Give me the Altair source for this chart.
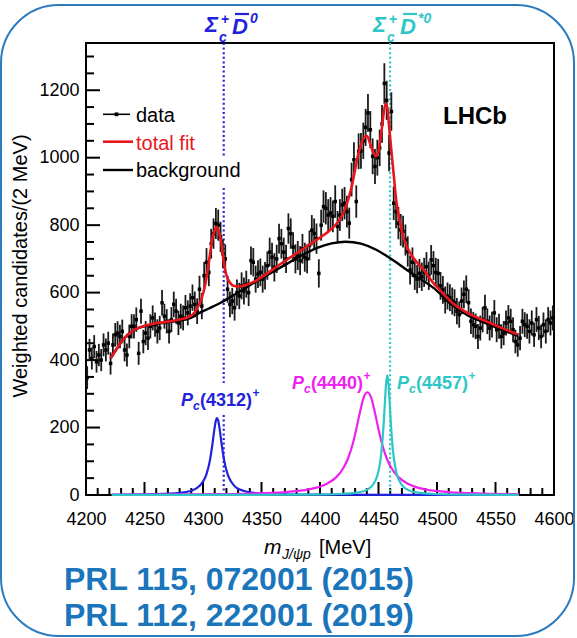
import altair as alt
import pandas as pd

FONT = "Liberation Sans"
BLUE = "#2222dd"
MAGENTA = "#ee22ee"
CYAN = "#2ec6c6"
RED = "#e8161c"
FRAME = "#2b7bbf"
REF_BLUE = "#1b75bb"

# ---------------- histogram: weighted candidates per 2 MeV ----------------
mass = list(range(4201, 4600, 2))
counts = [
    348, 430, 405, 440, 395, 415, 400, 445, 430, 450,
    390, 445, 475, 480, 470, 485, 430, 415, 470, 500,
    500, 520, 420, 545, 455, 480, 465, 500, 525, 505,
    485, 495, 570, 530, 515, 485, 520, 565, 545, 510,
    530, 525, 555, 540, 560, 585, 565, 545, 610, 560,
    650, 690, 660, 745, 775, 805, 800, 765, 715, 700,
    610, 565, 575, 555, 600, 590, 620, 605, 625, 600,
    695, 690, 640, 655, 660, 640, 650, 680, 720, 705,
    675, 700, 760, 745, 720, 700, 790, 775, 735, 700,
    710, 695, 730, 705, 700, 740, 785, 775, 760, 657,
    800, 855, 850, 830, 836, 826, 870, 796, 830, 860,
    865, 840, 806, 935, 994, 870, 1019, 1020, 1050, 1090,
    1133, 1083, 1004, 974, 1000, 1029, 1100, 1220, 1170, 1014,
    1137, 865, 840, 806, 786, 781, 756, 722, 667, 690,
    650, 640, 657, 647, 660, 677, 650, 697, 680, 660,
    657, 620, 608, 578, 590, 585, 575, 570, 545, 535,
    575, 595, 610, 570, 515, 505, 500, 470, 495, 520,
    555, 515, 495, 505, 540, 490, 500, 470, 480, 510,
    525, 515, 490, 455, 445, 465, 515, 505, 500, 485,
    510, 475, 520, 495, 470, 505, 485, 520, 510, 525,
]
errors = [
    34, 33, 33, 34, 32, 33, 33, 34, 34, 34,
    33, 34, 35, 35, 35, 35, 34, 34, 35, 36,
    36, 36, 34, 37, 35, 36, 35, 36, 37, 36,
    36, 36, 38, 37, 36, 36, 37, 38, 37, 36,
    37, 37, 38, 37, 38, 39, 38, 38, 40, 39,
    41, 42, 41, 44, 45, 46, 46, 45, 43, 43,
    40, 38, 39, 38, 39, 39, 40, 40, 40, 40,
    42, 42, 40, 41, 41, 40, 41, 42, 43, 43,
    42, 42, 44, 44, 43, 42, 45, 45, 44, 43,
    43, 43, 44, 43, 43, 44, 45, 45, 45, 42,
    46, 48, 48, 47, 47, 47, 48, 46, 47, 48,
    48, 47, 46, 50, 52, 48, 53, 53, 54, 55,
    56, 55, 53, 52, 53, 54, 56, 60, 58, 54,
    57, 50, 49, 48, 47, 47, 46, 45, 43, 44,
    42, 42, 43, 42, 43, 43, 42, 44, 43, 43,
    43, 41, 41, 40, 40, 40, 40, 40, 39, 39,
    40, 41, 41, 40, 38, 38, 38, 37, 37, 38,
    39, 38, 37, 38, 38, 37, 37, 36, 36, 37,
    38, 37, 37, 35, 35, 36, 37, 37, 37, 36,
    37, 36, 37, 36, 35, 36, 36, 37, 37, 37,
]

# ---------------- fit components ----------------
fit_mass = [4221, 4226, 4232, 4240, 4250, 4260, 4270, 4280, 4288, 4293,
            4296, 4299, 4302, 4305, 4308, 4310, 4312, 4314, 4316, 4318,
            4320, 4323, 4326, 4330, 4336, 4345, 4355, 4365, 4375, 4385,
            4395, 4405, 4412, 4417, 4421, 4424, 4427, 4430, 4433, 4436,
            4440, 4443, 4446, 4448, 4450, 4452, 4454, 4456, 4457.5, 4459,
            4461, 4463, 4465, 4468, 4472, 4479, 4488, 4497, 4505, 4512,
            4526, 4540, 4554, 4569]
fit_total = [405, 432, 462, 487, 502, 509, 514, 520, 528, 542,
             560, 585, 625, 690, 760, 785, 795, 775, 738, 685,
             652, 630, 620, 618, 622, 635, 657, 682, 705, 728,
             752, 775, 796, 818, 845, 875, 912, 965, 1015, 1048,
             1065, 1040, 1012, 1004, 1020, 1063, 1120, 1160, 1150, 1095,
             1020, 950, 878, 815, 756, 707, 670, 628, 598, 573,
             540, 518, 497, 476]

bkg_mass = [4221, 4226, 4232, 4240, 4250, 4260, 4270, 4280, 4290, 4297,
            4305, 4315, 4326, 4340, 4354, 4369, 4383, 4397, 4410, 4422,
            4435, 4448, 4460, 4474, 4486, 4497, 4512, 4526, 4540, 4554,
            4569]
bkg_values = [405, 432, 462, 487, 500, 507, 512, 517, 526, 540,
              553, 570, 592, 622, 650, 680, 708, 732, 746, 751,
              745, 727, 702, 668, 640, 614, 566, 533, 512, 492,
              472]

pc4312_mass = [4222, 4250, 4270, 4285, 4295, 4300, 4303, 4306, 4308, 4310,
               4311, 4312, 4313, 4314, 4316, 4318, 4321, 4324, 4328, 4335,
               4345, 4360, 4400, 4480, 4570]
pc4312_values = [0.8, 1.7, 3.8, 8.7, 21, 40, 62, 104, 149, 201,
                 221, 228, 221, 201, 149, 104, 62, 40, 23, 12,
                 6, 3, 0.9, 0.3, 0.1]

pc4440_mass = [4222, 4280, 4310, 4340, 4370, 4390, 4405, 4414, 4420, 4424,
               4428, 4431, 4434, 4437, 4440.5, 4444, 4447, 4450, 4453, 4457,
               4461, 4467, 4476, 4490, 4510, 4540, 4570]
pc4440_values = [1, 1.7, 2.6, 4.3, 8.7, 16.5, 32, 53, 80, 109,
                 152, 195, 243, 286, 304, 286, 243, 195, 152, 109,
                 80, 53, 32, 16.5, 8.7, 4.3, 2.6]

pc4457_mass = [4222, 4330, 4387.5, 4417.5, 4432.5, 4439.5, 4444.5, 4447.5, 4449.5, 4451.5,
               4452.5, 4453.5, 4454.5, 4455.5, 4456.5, 4457.5, 4458.5, 4459.5, 4460.5, 4461.5,
               4462.5, 4463.5, 4465.5, 4467.5, 4470.5, 4475.5, 4482.5, 4497.5, 4527.5, 4570]
pc4457_values = [0.2, 0.5, 1, 3, 7.6, 14.5, 27, 44, 64, 100,
                 128, 166, 216, 276, 331, 355, 331, 276, 216, 166,
                 128, 100, 64, 44, 27, 14.5, 7.6, 3, 1, 0.4]

# thresholds Sigma_c+ Dbar0 and Sigma_c+ Dbar*0
threshold_d0 = [4317.7]
threshold_dstar0 = [4459.9]

# axis labels and tick marks
x_labels = [4200, 4250, 4300, 4350, 4400, 4450, 4500, 4550, 4600]
y_labels = [0, 200, 400, 600, 800, 1000, 1200]
x_minor = [m for m in range(4200, 4601, 10) if m % 50]
y_minor = [v for v in range(50, 1301, 50) if v % 200]

# ---------------- scales / axes ----------------
xs = alt.Scale(domain=[4200, 4600], nice=False, zero=False)
ys = alt.Scale(domain=[0, 1340], nice=False, zero=False)
x_axis = alt.Axis(values=x_labels, ticks=False, tickSize=0, domain=False, grid=False,
                  labelFont=FONT, labelFontSize=18, labelColor="black", labelPadding=15,
                  labelFlush=False, labelOverlap=False, format="d", title=None)
y_axis = alt.Axis(values=y_labels, ticks=False, tickSize=0, domain=False, grid=False,
                  labelFont=FONT, labelFontSize=18, labelColor="black", labelPadding=7,
                  labelFlush=False, labelOverlap=False, format="d", title=None)


def X(field):
    return alt.X(field, type="quantitative", scale=xs, axis=x_axis)


def Y(field):
    return alt.Y(field, type="quantitative", scale=ys, axis=y_axis)


one = pd.DataFrame({"k": [0]})

hist = pd.DataFrame({
    "m": mass,
    "v": counts,
    "lo": [c - e for c, e in zip(counts, errors)],
    "hi": [c + e for c, e in zip(counts, errors)],
})


def curve(ms, vs, color, width):
    df = pd.DataFrame({"m": ms, "v": vs})
    return alt.Chart(df).mark_line(color=color, strokeWidth=width, interpolate="monotone").encode(
        x=X("m"), y=Y("v"))


def text(t, x, y, size, color="black", weight="normal", style="normal", align="left", angle=None):
    kw = dict(text=t, fontSize=size, font=FONT, color=color, fontWeight=weight,
              fontStyle=style, align=align, baseline="alphabetic")
    if angle is not None:
        kw["angle"] = angle
    return alt.Chart(one).mark_text(**kw).encode(x=alt.value(x), y=alt.value(y))


def hline(x1, x2, y, color, width):
    return alt.Chart(one).mark_rule(color=color, strokeWidth=width).encode(
        x=alt.value(x1), x2=alt.value(x2), y=alt.value(y))


def threshold_rule(values, color, y1, y2):
    df = pd.DataFrame({"m": values})
    return alt.Chart(df).mark_rule(color=color, strokeWidth=2.2, strokeDash=[2, 2.6]).encode(
        x=X("m"), y=alt.value(y1), y2=alt.value(y2))


def pc_label(number, x0, base, color):
    return [
        text("P", x0, base, 18, color, "bold", "italic"),
        text("c", x0 + 12, base + 4, 12, color, "bold", "italic"),
        text(f"({number})", x0 + 19, base, 18, color, "bold"),
        text("+", x0 + 71.5, base - 9, 12, color, "bold"),
    ]


def sigma_label(sup, x0, color):
    return [
        text("\u03a3", x0, -11, 22, color, "bold", "italic"),
        text("c", x0 + 14, -1, 14, color, "bold", "italic"),
        text("+", x0 + 16, -19, 14, color, "bold"),
        text("D", x0 + 27, -9, 22, color, "bold", "italic"),
        hline(x0 + 30, x0 + 44, -29, color, 2.2),
        text(sup, x0 + 45, -20, 14, color, "bold", "italic"),
    ]


# rounded frame around the figure
frame = alt.Chart(one).mark_rect(cornerRadius=58, fillOpacity=0, stroke=FRAME, strokeWidth=2).encode(
    x=alt.value(-85), x2=alt.value(488), y=alt.value(-38), y2=alt.value(593))

# inward ticks
x_major_ticks = alt.Chart(pd.DataFrame({"m": x_labels})).mark_rule(color="black", strokeWidth=2).encode(
    x=X("m"), y=alt.value(452), y2=alt.value(439))
x_minor_ticks = alt.Chart(pd.DataFrame({"m": x_minor})).mark_rule(color="black", strokeWidth=2).encode(
    x=X("m"), y=alt.value(452), y2=alt.value(445))
y_major_ticks = alt.Chart(pd.DataFrame({"v": y_labels})).mark_rule(color="black", strokeWidth=2).encode(
    y=Y("v"), x=alt.value(0), x2=alt.value(14))
y_minor_ticks = alt.Chart(pd.DataFrame({"v": y_minor})).mark_rule(color="black", strokeWidth=2).encode(
    y=Y("v"), x=alt.value(0), x2=alt.value(8))

# dotted threshold lines (interrupted behind the legend and label text)
thr = [
    threshold_rule(threshold_d0, BLUE, 0, 115),
    threshold_rule(threshold_d0, BLUE, 145, 340),
    threshold_rule(threshold_d0, BLUE, 372, 452),
    threshold_rule(threshold_dstar0, CYAN, 0, 452),
]

err_bars = alt.Chart(hist).mark_rule(color="#1a1a1a", strokeWidth=1.8).encode(
    x=X("m"), y=Y("lo"), y2="hi")
points = alt.Chart(hist).mark_square(color="black", size=12, opacity=1).encode(
    x=X("m"), y=Y("v"))

layers = [frame, x_major_ticks, x_minor_ticks, y_major_ticks, y_minor_ticks] + thr + [
    curve(pc4312_mass, pc4312_values, BLUE, 2.2),
    curve(pc4440_mass, pc4440_values, MAGENTA, 2.2),
    curve(pc4457_mass, pc4457_values, CYAN, 2.2),
    err_bars,
    points,
    curve(bkg_mass, bkg_values, "black", 2.4),
    curve(fit_mass, fit_total, RED, 2.6),
]

# legend
layers += [
    hline(17, 44, 71.3, "black", 1.6),
    alt.Chart(one).mark_square(color="black", size=14, opacity=1).encode(x=alt.value(30.5), y=alt.value(71.3)),
    text("data", 50, 78.5, 20),
    hline(17, 47, 98.7, RED, 2.6),
    text("total fit", 50, 106.5, 20, RED),
    hline(17, 47, 127, "black", 2.4),
    text("background", 50, 134, 20),
    text("LHCb", 357, 80.5, 24, "black", "bold"),
]

# resonance and threshold labels
layers += pc_label("4312", 95, 362.5, BLUE)
layers += pc_label("4440", 206, 346, MAGENTA)
layers += pc_label("4457", 311, 346, CYAN)
layers += sigma_label("0", 119, BLUE)
layers += sigma_label("*0", 287, CYAN)

# axis titles
layers += [
    text("m", 178, 511, 21, "black", "normal", "italic"),
    text("J/\u03c8p", 196, 516, 14, "black", "normal", "italic"),
    text("[MeV]", 233, 511, 20),
    text("Weighted candidates/(2 MeV)", -59, 223, 20, align="center", angle=270),
]

# references below the plot
layers += [
    text("PRL 115, 072001 (2015)", -22, 546.5, 32, REF_BLUE, "bold"),
    text("PRL 112, 222001 (2019)", -22, 582.5, 32, REF_BLUE, "bold"),
]

chart = alt.layer(*layers).properties(
    width=468,
    height=452,
    padding={"left": 86, "top": 43, "right": 23, "bottom": 143},
    autosize=alt.AutoSizeParams(type="none"),
    background="white",
).configure_view(stroke="black", strokeWidth=2)

chart.save("out.html", embed_options={"renderer": "svg", "actions": False})
